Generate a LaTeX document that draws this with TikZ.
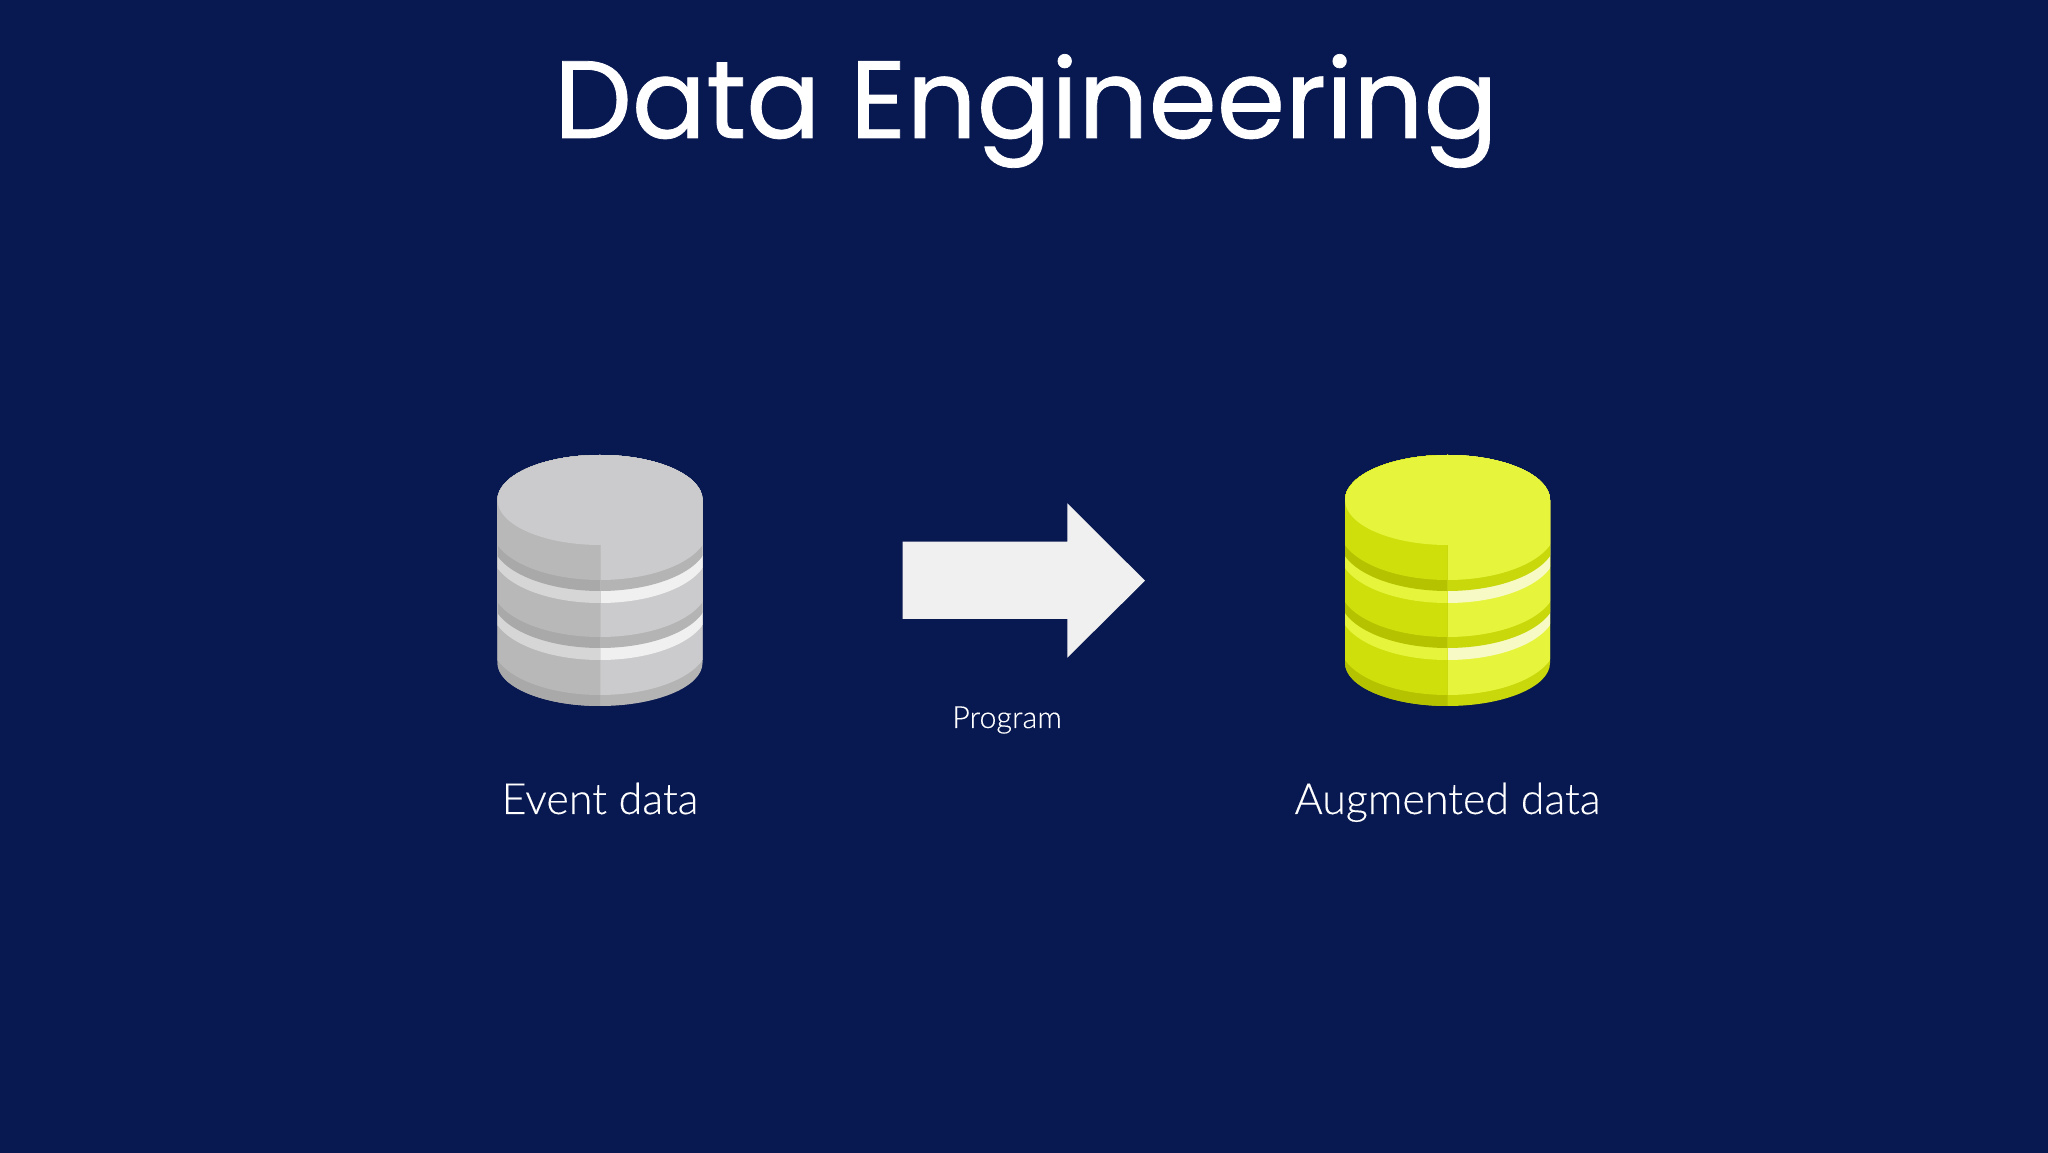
\documentclass[tikz,border=0pt]{standalone}
\usepackage{fontspec}
\setmainfont[FakeBold=0.25]{Lato Light}
\newfontfamily\titlefont[FakeBold=0.7]{Poppins}
\definecolor{bgc}{HTML}{081850}
\definecolor{arrowc}{HTML}{F0F0F0}
\definecolor{gTop}{HTML}{CBCBCD}
\definecolor{gDarkR}{HTML}{B4B4B4}
\definecolor{gWhiteR}{HTML}{F0F0F0}
\definecolor{gDiskL}{HTML}{B8B8B8}
\definecolor{gDarkL}{HTML}{A9A9A9}
\definecolor{gWhiteL}{HTML}{D6D6D6}
\definecolor{yTop}{HTML}{E6F53C}
\definecolor{yDarkR}{HTML}{C8D80A}
\definecolor{yWhiteR}{HTML}{F7FAC4}
\definecolor{yDiskL}{HTML}{CEDF0C}
\definecolor{yDarkL}{HTML}{B4C200}
\definecolor{yWhiteL}{HTML}{E6F53C}
% #1 cx, #2 lowest point of the arc (px from top), #3 colour
\newcommand{\dbarc}[3]{\fill[#3] ({#1-108},{1152-#2+51}) arc[start angle=180,end angle=360,x radius=108,y radius=51] -- ({#1+108},{1152-440}) -- ({#1-108},{1152-440}) -- cycle;}
% #1 cx, #2 disk, #3 dark, #4 white
\newcommand{\dblayers}[4]{%
  \fill[#3] ({#1-110},{1152-720}) rectangle ({#1+110},{1152-440});
  \dbarc{#1}{695}{#2}
  \dbarc{#1}{660}{#4}
  \dbarc{#1}{648}{#3}
  \dbarc{#1}{637}{#2}
  \dbarc{#1}{603}{#4}
  \dbarc{#1}{591}{#3}
  \dbarc{#1}{580}{#2}
}
\newcommand{\dbicon}[7]{%
  \begin{scope}
    \clip ({#1-102.5},{1152-500}) arc[start angle=180,end angle=0,x radius=102.5,y radius=45]
      -- ({#1+102.5},{1152-663}) arc[start angle=360,end angle=180,x radius=102.5,y radius=43] -- cycle;
    \dblayers{#1}{#2}{#3}{#4}
    \begin{scope}
      \clip ({#1-110},{1152-720}) rectangle (#1,{1152-440});
      \dblayers{#1}{#5}{#6}{#7}
    \end{scope}
    \fill[#2] (#1,{1152-500}) ellipse[x radius=102.5,y radius=45];
  \end{scope}
}
\tikzset{
  title/.style={text=white,font=\titlefont\fontsize{110}{110}\selectfont,inner sep=0pt,anchor=base},
  biglabel/.style={text=white,font=\fontsize{43}{43}\selectfont,inner sep=0pt,anchor=base},
  smalllabel/.style={text=white,font=\fontsize{30.5}{30.5}\selectfont,inner sep=0pt,anchor=base}
}
\begin{document}
\begin{tikzpicture}[x=1pt,y=1pt]
\useasboundingbox (0,0) rectangle (2048,1152);
\fill[bgc] (-5,-5) rectangle (2053,1157);
\node[title] (ttl) at (1026,{1152-138}) {Data Engineering};
\dbicon{600}{gTop}{gDarkR}{gWhiteR}{gDiskL}{gDarkL}{gWhiteL}
\dbicon{1447.5}{yTop}{yDarkR}{yWhiteR}{yDiskL}{yDarkL}{yWhiteL}
\fill[arrowc] (902.7,{1152-541.7}) -- (1067.3,{1152-541.7}) -- (1067.3,{1152-503.3}) -- (1145,{1152-580.7}) -- (1067.3,{1152-657.7}) -- (1067.3,{1152-619}) -- (902.7,{1152-619}) -- cycle;
\node[smalllabel] (prog) at (1007,{1152-728}) {Program};
\node[biglabel] (ev) at (600,{1152-814}) {Event data};
\node[biglabel] (aug) at (1447.5,{1152-814}) {Augmented data};
\end{tikzpicture}
\end{document}
